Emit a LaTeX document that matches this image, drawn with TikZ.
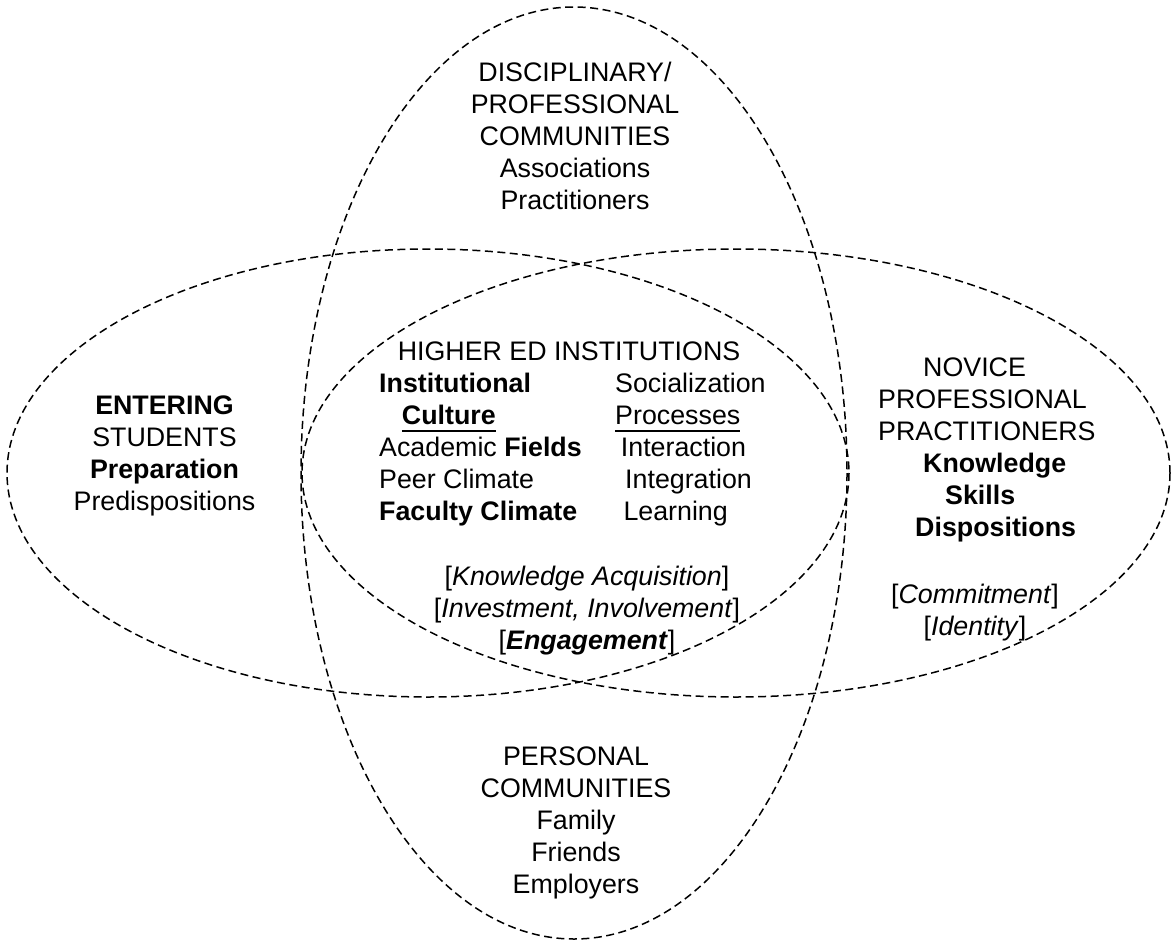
\documentclass[tikz,border=0pt]{standalone}
\usepackage{fontspec}
\setmainfont{Liberation Sans}
\newsavebox\motbox
\newcommand\souligne[1]{\sbox\motbox{#1}\rlap{\rule[-8pt]{\wd\motbox}{2pt}}\usebox\motbox}
\begin{document}
\begin{tikzpicture}[x=1pt,y=-1pt,
    cercle/.style={dash pattern=on 8pt off 4.5pt,line width=1.5pt},
    texte/.style={inner sep=0pt,font=\fontsize{26.8}{32}\selectfont}]
  \useasboundingbox (0,0) rectangle (1172,942);
  \draw[cercle] (574,473) ellipse [x radius=273,y radius=466];
  \draw[cercle] (428,473) ellipse [x radius=421,y radius=224];
  \draw[cercle] (736,473) ellipse [x radius=434,y radius=224];
  % base = ligne du bas
  \node[texte,align=center,anchor=base] (disc) at (575,209) {DISCIPLINARY/\\PROFESSIONAL\\COMMUNITIES\\Associations\\Practitioners};
  \node[texte,anchor=base] (higher) at (569,360) {HIGHER ED INSTITUTIONS};
  \node[texte,align=left,anchor=base west] (culture) at (379,520) {\textbf{Institutional}\\
    \hspace*{22.7pt}\souligne{\textbf{Culture}}\\Academic \textbf{Fields}\\Peer Climate\\\textbf{Faculty Climate}};
  \node[texte,align=left,anchor=base west] (process) at (615,520) {Socialization\\\souligne{Processes}\\
    \hspace*{5.7pt}Interaction\\\hspace*{10pt}Integration\\\hspace*{8.3pt}Learning};
  \node[texte,align=center,anchor=base] (engage) at (587,649) {{[}\textit{Knowledge Acquisition}]\\
    {[}\textit{Investment, Involvement}]\\{[}\textbf{\textit{Engagement}}]};
  \node[texte,align=center,anchor=base] (entering) at (164.5,510) {\textbf{ENTERING}\\STUDENTS\\\textbf{Preparation}\\Predispositions};
  \node[texte,align=left,anchor=base west] (novice) at (878,536.7) {\hspace*{45pt}NOVICE\\PROFESSIONAL\\PRACTITIONERS\\
    \hspace*{45pt}\textbf{Knowledge}\\\hspace*{67pt}\textbf{Skills}\\\hspace*{37pt}\textbf{Dispositions}};
  \node[texte,align=center,anchor=base] (commit) at (975,635) {{[}\textit{Commitment}]\\{[}\textit{Identity}]};
  \node[texte,align=center,anchor=base] (personal) at (576,893) {PERSONAL\\COMMUNITIES\\Family\\Friends\\Employers};
\end{tikzpicture}
\end{document}
